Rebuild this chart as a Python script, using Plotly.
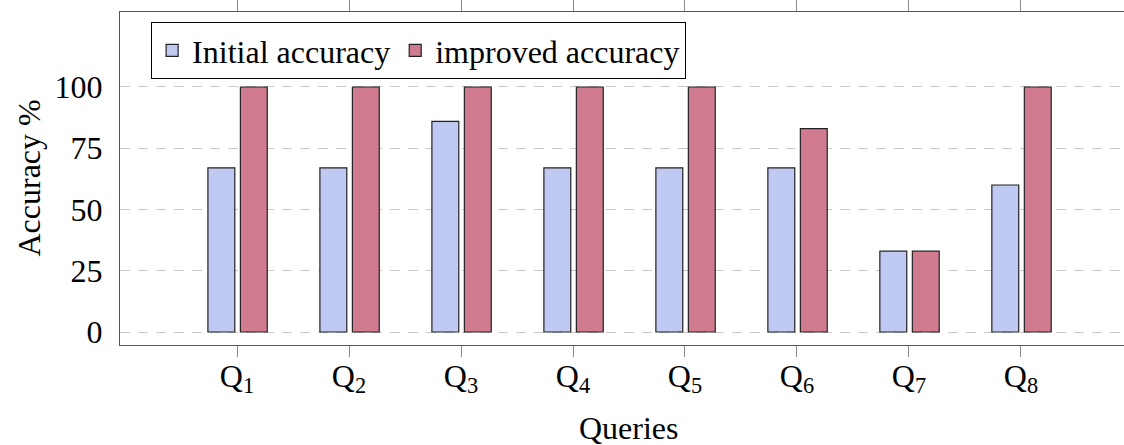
import plotly.graph_objects as go

categories = ["Q<sub>1</sub>", "Q<sub>2</sub>", "Q<sub>3</sub>", "Q<sub>4</sub>",
              "Q<sub>5</sub>", "Q<sub>6</sub>", "Q<sub>7</sub>", "Q<sub>8</sub>"]
initial_accuracy = [67, 67, 86, 67, 67, 67, 33, 60]
improved_accuracy = [100, 100, 100, 100, 100, 83, 33, 100]
y_ticks = [0, 25, 50, 75, 100]

xpos = list(range(len(categories)))
FONT = "Liberation Serif"
FS = 32

fig = go.Figure()
fig.add_trace(go.Bar(
    x=xpos, y=initial_accuracy, name="Initial accuracy",
    width=0.24, offset=-0.26,
    marker=dict(color="#c0c9f2", line=dict(color="#222222", width=1.2)),
))
fig.add_trace(go.Bar(
    x=xpos, y=improved_accuracy, name="improved accuracy",
    width=0.24, offset=0.03,
    marker=dict(color="#d07b90", line=dict(color="#222222", width=1.2)),
))

fig.update_layout(
    width=1124, height=445,
    margin=dict(l=120, r=0, t=12, b=100),
    paper_bgcolor="white", plot_bgcolor="white",
    barmode="overlay",
    font=dict(family=FONT, size=FS, color="black"),
    showlegend=True,
    legend=dict(
        orientation="h", x=0.031, y=0.97, xanchor="left", yanchor="top",
        bordercolor="black", borderwidth=1, bgcolor="white",
        font=dict(family=FONT, size=FS, color="black"),
        itemwidth=30, tracegroupgap=0,
    ),
    xaxis=dict(
        range=[-1.045, 7.92],
        tickmode="array", tickvals=xpos, ticktext=categories,
        showline=True, linecolor="#555555", linewidth=1.3, mirror="ticks",
        ticks="outside", ticklen=11, tickcolor="#8a8a8a", tickwidth=1.3,
        ticklabelstandoff=-9,
        showgrid=False, zeroline=False,
        tickfont=dict(family=FONT, size=FS, color="black"),
    ),
    yaxis=dict(
        range=[-5.3, 130.6],
        tickmode="array", tickvals=y_ticks, ticktext=[str(v) for v in y_ticks],
        showline=True, linecolor="#555555", linewidth=1.3, mirror=False,
        ticks="", ticklabelstandoff=10,
        showgrid=True, gridcolor="#c8c8c8", gridwidth=1.2, griddash="10px,8px",
        zeroline=False,
        tickfont=dict(family=FONT, size=FS, color="black"),
    ),
    annotations=[
        dict(text="Accuracy %", xref="paper", yref="paper",
             x=-0.0916, y=0.5, xanchor="center", yanchor="middle",
             textangle=-90, showarrow=False,
             font=dict(family=FONT, size=FS, color="black")),
        dict(text="Queries", xref="x", yref="paper",
             x=3.5, y=-0.25, xanchor="center", yanchor="middle",
             showarrow=False,
             font=dict(family=FONT, size=FS, color="black")),
    ],
)

fig.write_html(
    "out.html",
    config={"displayModeBar": False},
    post_script="document.body.style.margin='0';document.body.style.overflow='hidden';",
)
